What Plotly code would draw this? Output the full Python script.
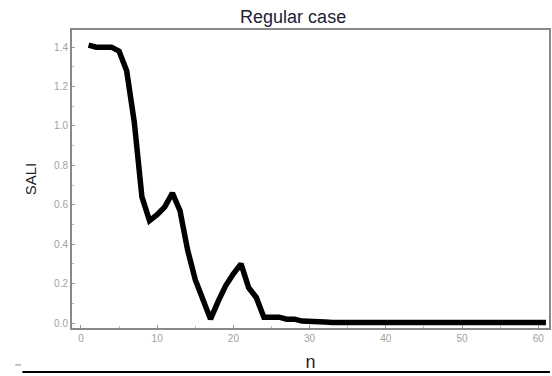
import plotly.graph_objects as go

n_values = list(range(1, 62))
sali_values = [1.41, 1.40, 1.40, 1.40, 1.38, 1.28, 1.02, 0.64, 0.52, 0.55,
               0.59, 0.66, 0.57, 0.37, 0.22, 0.11, 0.02, 0.11, 0.19, 0.25,
               0.30, 0.18, 0.13, 0.03, 0.03, 0.03, 0.02, 0.02, 0.01, 0.01,
               0.01, 0.005] + [0.003] * 29

x_ticks = [0, 10, 20, 30, 40, 50, 60]
y_ticks = [0.0, 0.2, 0.4, 0.6, 0.8, 1.0, 1.2, 1.4]
y_tick_text = ["0.0", "0.2", "0.4", "0.6", "0.8", "1.0", "1.2", "1.4"]

fig = go.Figure()
fig.add_trace(go.Scatter(x=n_values, y=sali_values, mode="lines",
                         line=dict(color="black", width=5.5)))

axis_common = dict(showgrid=False, zeroline=False, showline=True, mirror=True,
                   linecolor="#888888", linewidth=2, ticks="inside", ticklen=3,
                   tickcolor="#999999", tickfont=dict(family="Arial", size=10, color="#a0a0a0"),
                   minor=dict(ticks="inside", ticklen=2, tickcolor="#bbbbbb", nticks=5))

fig.update_xaxes(range=[-1.17, 61.4], tickvals=x_ticks, **axis_common,
                 title=dict(text="n", font=dict(family="Arial", size=18, color="#222222"), standoff=12))
fig.update_yaxes(range=[-0.025, 1.487], tickvals=y_ticks, ticktext=y_tick_text, **axis_common,
                 title=dict(text="SALI", font=dict(family="Arial", size=15, color="#222222"), standoff=14))

fig.update_layout(
    width=552, height=376,
    margin=dict(l=72, r=1, t=30, b=48),
    paper_bgcolor="white", plot_bgcolor="white",
    showlegend=False,
    title=dict(text="Regular case", x=0.531, xanchor="center", xref="container",
               y=0.955, yanchor="middle", yref="container",
               font=dict(family="Arial", size=18, color="#222233")),
    shapes=[
        dict(type="line", xref="paper", yref="paper", x0=-0.104, x1=1.002,
             y0=-0.148, y1=-0.148, line=dict(color="black", width=2)),
        dict(type="line", xref="paper", yref="paper", x0=-0.119, x1=-0.107,
             y0=-0.124, y1=-0.124, line=dict(color="#888888", width=1)),
    ],
)

fig.write_html("out.html", config={"displayModeBar": False},
               post_script="document.body.style.margin='0';document.body.style.overflow='hidden';")
